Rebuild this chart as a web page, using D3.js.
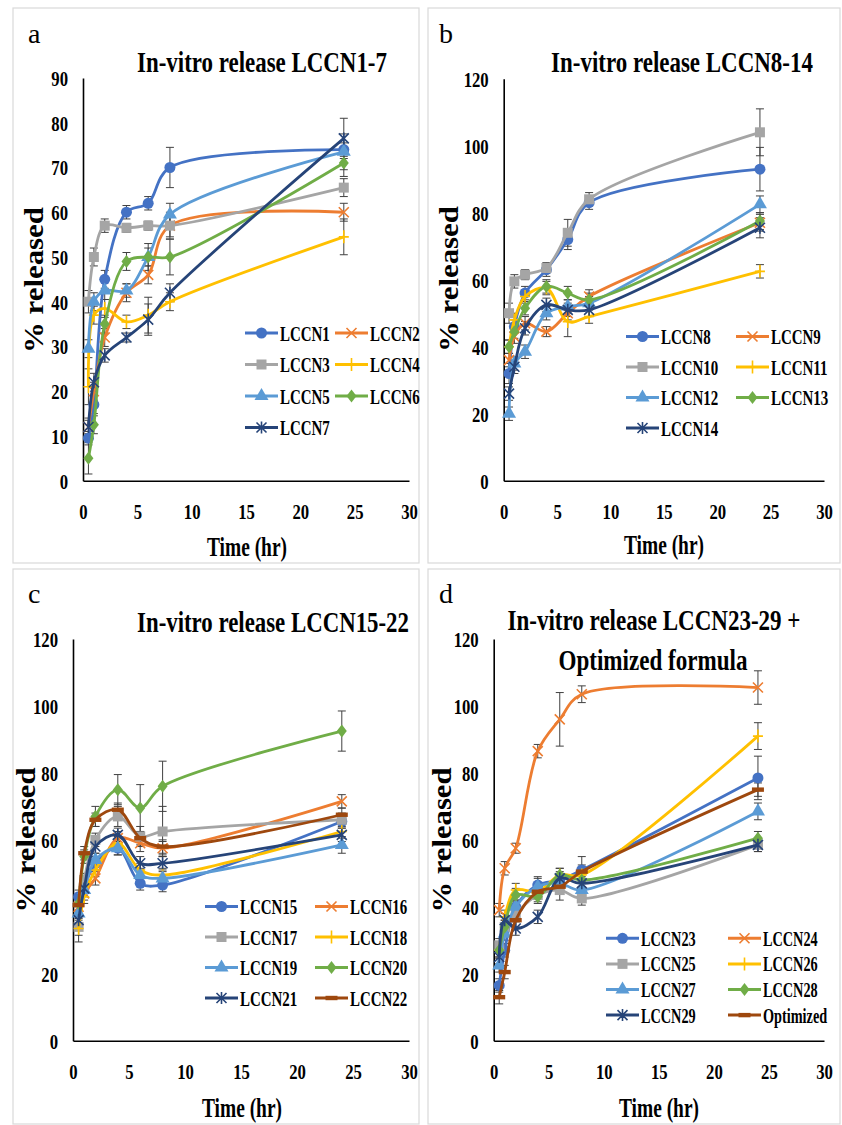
<!DOCTYPE html>
<html>
<head>
<meta charset="utf-8">
<script src="https://cdn.jsdelivr.net/npm/d3@7"></script>
<style>
  body { margin: 0; background: #fff; }
  text { font-family: "Liberation Serif", "Times New Roman", serif; fill: #000; }
</style>
</head>
<body>
<div id="chart"></div>
<script>
// sampling times (hr), shared by all four panels
var times = [0.5, 1, 2, 4, 6, 8, 24];

// panel a
var namesA = ["LCCN1", "LCCN2", "LCCN3", "LCCN4", "LCCN5", "LCCN6", "LCCN7"];
var valuesA = [
  [9.5, 17, 45, 60, 62, 70, 74],
  [12, 20, 32, 42, 46, 57, 60],
  [40, 50, 57, 56.5, 57, 57, 65.5],
  [21, 37, 38.5, 35.5, 37, 40, 54.5],
  [29.5, 40, 42.5, 42.5, 50, 59.5, 73.5],
  [5, 12.5, 35, 49, 50, 50, 71],
  [12, 22, 28, 32, 36, 42, 76.5]
];
var errorsA = [
  [1.5, 2, 2, 1.5, 1.5, 4.5, 1.5],
  [1.5, 2, 2, 2, 2, 3, 2],
  [2.5, 2, 1.5, 1, 1, 2.5, 2],
  [4, 2, 2, 1.5, 4, 2, 4],
  [2, 2, 2, 1.5, 2, 2.5, 4],
  [3.5, 2, 2, 2, 3, 4, 3],
  [2, 2, 1.5, 1, 3.5, 2, 4.5]
];

// panel b
var namesB = ["LCCN8", "LCCN9", "LCCN10", "LCCN11", "LCCN12", "LCCN13", "LCCN14"];
var valuesB = [
  [32, 46, 56, 63, 72, 83, 93],
  [36, 43, 47, 44.5, 50, 55, 77],
  [50, 59.5, 61.5, 63.5, 74, 84, 104],
  [40, 48, 55, 57.5, 47.5, 49, 62.5],
  [20, 35, 38.5, 50, 52, 53, 82.5],
  [40, 44.5, 51.5, 58, 56, 54, 77.5],
  [26, 34, 45.5, 52.5, 51, 51, 75.5]
];
var errorsB = [
  [3, 2, 2, 2, 3, 2, 6.5],
  [2, 2, 2, 1.5, 2, 2, 2.5],
  [3, 2, 1.5, 1.5, 4, 2, 7],
  [2, 2, 2, 2, 4.5, 2, 2],
  [2, 2, 2, 2, 2, 2, 2.5],
  [2, 2, 2, 2, 2, 2, 2.5],
  [2, 2, 2, 2, 2, 2, 3]
];

// panel c
var namesC = ["LCCN15", "LCCN16", "LCCN17", "LCCN18", "LCCN19", "LCCN20", "LCCN21", "LCCN22"];
var valuesC = [
  [43, 46, 53, 57.5, 47, 46.5, 65.5],
  [40, 44, 48.5, 60.5, 59, 57.5, 71.5],
  [34, 48, 60, 67, 61, 62.5, 66],
  [33.5, 43, 51, 59, 51, 49.5, 62.5],
  [38, 45, 54, 57.5, 49.5, 48.5, 58.5],
  [41, 55, 67, 75, 69.5, 76, 92.5],
  [36, 45.5, 58, 61.5, 53, 53, 61.5],
  [40.5, 56, 66, 69, 60.5, 58, 67.5]
];
var errorsC = [
  [2, 2, 2, 2, 2, 2, 2],
  [2, 2, 2, 2, 2.5, 2, 2],
  [2.5, 2, 2, 3, 3, 7.5, 2],
  [4, 2, 2, 2, 2, 2, 2],
  [2, 2, 2, 2, 2, 2, 2.5],
  [2, 2, 3, 4.5, 7, 7.5, 6],
  [2, 2, 2, 2, 2, 2, 2],
  [2, 2, 2, 2, 2, 2, 2]
];

// panel d
var namesD = ["LCCN23", "LCCN24", "LCCN25", "LCCN26", "LCCN27", "LCCN28", "LCCN29", "Optimized"];
var valuesD = [
  [16.5, 27, 40, 46.5, 48, 51, 78.5],
  [39, 51.5, 57.5, 86.5, 96, 103.5, 105.5],
  [28.5, 34, 38, 43.5, 45, 42.5, 58.5],
  [27, 37, 45, 44.5, 49.5, 49.5, 91],
  [22.5, 32, 40, 46, 47, 45, 68.5],
  [27, 34, 43.5, 43, 49.5, 48, 60.5],
  [25, 36, 33.5, 37, 48.5, 47, 58.5],
  [13, 20.5, 36, 44.5, 46, 50.5, 75]
];
var errorsD = [
  [2, 2, 2, 2, 2, 4, 6.5],
  [2, 2, 1.5, 2, 8, 2.5, 5],
  [2, 2, 2, 2, 3, 2, 2],
  [2, 2, 2, 2, 2, 2, 4],
  [2, 2, 2, 3, 2, 2, 2.5],
  [2, 2, 2, 2, 2, 2, 2],
  [2, 2, 2, 2, 2, 2, 2],
  [2, 2, 2, 2, 2, 2, 2]
];

var yTicksA = [0, 10, 20, 30, 40, 50, 60, 70, 80, 90];
var yTicksB = [0, 20, 40, 60, 80, 100, 120];
var xTicks = [0, 5, 10, 15, 20, 25, 30];

// excel-like series styling, same order in every panel
var colors = ["#4472C4", "#ED7D31", "#A5A5A5", "#FFC000", "#5B9BD5", "#70AD47", "#264478", "#9E480E"];
var shapes = ["circle", "x", "square", "plus", "triangle", "diamond", "star", "dash"];

var FONT = '"Liberation Serif", "Times New Roman", serif';

var panels = [
  { letter: "a", names: namesA, values: valuesA, errors: errorsA, yMax: 90, yTicks: yTicksA,
    x0: 83, x1: 409, yTop: 78, yBot: 480.7, frame: [13, 8, 419, 563], letterPos: [28, 43],
    titles: [{ t: "In-vitro release LCCN1-7", cx: 262, y: 72, len: 250 }],
    xlab: { cx: 247, y: 556, len: 80 }, ylab: { x: 43, cy: 280, len: 146 },
    legend: { c1: 245, c2: 335, row0: 333, step: 31.5, font: 22 } },
  { letter: "b", names: namesB, values: valuesB, errors: errorsB, yMax: 120, yTicks: yTicksB,
    x0: 503.7, x1: 824, yTop: 78.7, yBot: 480.7, frame: [428, 8, 840, 563], letterPos: [439, 43],
    titles: [{ t: "In-vitro release LCCN8-14", cx: 682, y: 72, len: 262 }],
    xlab: { cx: 664, y: 554, len: 80 }, ylab: { x: 458, cy: 279, len: 146 },
    legend: { c1: 626, c2: 736, row0: 336.5, step: 30.5, font: 22 } },
  { letter: "c", names: namesC, values: valuesC, errors: errorsC, yMax: 120, yTicks: yTicksB,
    x0: 73, x1: 409, yTop: 639, yBot: 1040.7, frame: [13, 569, 419, 1124], letterPos: [28, 603],
    titles: [{ t: "In-vitro release LCCN15-22", cx: 273, y: 632, len: 272 }],
    xlab: { cx: 242, y: 1117, len: 80 }, ylab: { x: 35, cy: 840, len: 145 },
    legend: { c1: 205, c2: 315, row0: 906.5, step: 30.5, font: 22 } },
  { letter: "d", names: namesD, values: valuesD, errors: errorsD, yMax: 120, yTicks: yTicksB,
    x0: 493.7, x1: 824, yTop: 639, yBot: 1040.7, frame: [428, 569, 840, 1124], letterPos: [439, 603],
    titles: [{ t: "In-vitro release LCCN23-29 +", cx: 654, y: 630, len: 293 },
             { t: "Optimized formula", cx: 653, y: 670, len: 189 }],
    xlab: { cx: 659, y: 1117, len: 80 }, ylab: { x: 451, cy: 840, len: 145 },
    legend: { c1: 606, c2: 728, row0: 938.3, step: 25.6, font: 21 } }
];

var svg = d3.select("#chart").append("svg")
  .attr("width", 842)
  .attr("height", 1125);

svg.append("rect").attr("width", 842).attr("height", 1125).attr("fill", "#fff");

// squeeze a text horizontally so its width becomes len (the reference type is narrow)
function squeeze(t, pre, len) {
  var w = t.node().getComputedTextLength();
  t.attr("transform", pre + " scale(" + (len / w) + ",1)");
}

// draws one marker centred on (x, y)
function drawMarker(g, shape, color, x, y) {
  var m = g.append("g").attr("transform", "translate(" + x + "," + y + ")");
  if (shape === "circle") {
    m.append("path").attr("d", d3.symbol(d3.symbolCircle, 95)()).attr("fill", color);
  } else if (shape === "square") {
    m.append("path").attr("d", d3.symbol(d3.symbolSquare, 100)()).attr("fill", color);
  } else if (shape === "triangle") {
    m.append("path").attr("d", d3.symbol(d3.symbolTriangle, 85)()).attr("fill", color);
  } else if (shape === "diamond") {
    m.append("path").attr("d", "M0,-6.5L5,0L0,6.5L-5,0Z").attr("fill", color);
  } else if (shape === "x") {
    m.append("path").attr("d", "M-5,-5L5,5M-5,5L5,-5").attr("stroke", color).attr("stroke-width", 1.6);
  } else if (shape === "star") {
    m.append("path").attr("d", "M-5,-5L5,5M-5,5L5,-5M0,-6L0,6").attr("stroke", color).attr("stroke-width", 1.6);
  } else if (shape === "plus") {
    m.append("path").attr("d", "M0,-6.5L0,6.5M-5,0L5,0").attr("stroke", color).attr("stroke-width", 1.6);
  } else if (shape === "dash") {
    m.append("rect").attr("x", -6).attr("y", -2.2).attr("width", 12).attr("height", 4.4).attr("fill", color);
  }
}

panels.forEach(function(p) {
  var g = svg.append("g");

  // panel frame
  g.append("rect")
    .attr("x", p.frame[0]).attr("y", p.frame[1])
    .attr("width", p.frame[2] - p.frame[0]).attr("height", p.frame[3] - p.frame[1])
    .attr("fill", "#fff").attr("stroke", "#d9d9d9").attr("stroke-width", 1.2);

  var x = d3.scaleLinear().domain([0, 30]).range([p.x0, p.x1]);
  var y = d3.scaleLinear().domain([0, p.yMax]).range([p.yBot, p.yTop]);

  // axes, no tick marks, condensed bold serif labels
  var ax = g.append("g").attr("transform", "translate(0," + p.yBot + ")")
    .call(d3.axisBottom(x).tickValues(xTicks).tickSize(0).tickFormat(d3.format("d")));
  ax.attr("font-family", FONT);
  ax.select(".domain").attr("stroke", "#000").attr("stroke-width", 1.6);
  ax.selectAll(".tick text")
    .attr("x", 0).attr("y", 38).attr("dy", 0)
    .attr("transform", "scale(0.76,1)")
    .style("font-family", FONT)
    .style("font-size", "22px").style("font-weight", "bold");

  var ay = g.append("g").attr("transform", "translate(" + p.x0 + ",0)")
    .call(d3.axisLeft(y).tickValues(p.yTicks).tickSize(0).tickFormat(d3.format("d")));
  ay.attr("font-family", FONT);
  ay.select(".domain").attr("stroke", "#000").attr("stroke-width", 1.6);
  ay.selectAll(".tick text")
    .attr("x", -15 / 0.76).attr("dy", "0.34em")
    .attr("transform", "scale(0.76,1)")
    .style("font-family", FONT)
    .style("font-size", "22px").style("font-weight", "bold");

  // error bars first, under the lines
  var eb = g.append("g").attr("stroke", "#404040").attr("stroke-width", 1);
  p.values.forEach(function(vals, i) {
    vals.forEach(function(v, j) {
      var e = p.errors[i][j];
      var cx = x(times[j]);
      eb.append("line").attr("x1", cx).attr("x2", cx).attr("y1", y(v - e)).attr("y2", y(v + e));
      eb.append("line").attr("x1", cx - 4).attr("x2", cx + 4).attr("y1", y(v - e)).attr("y2", y(v - e));
      eb.append("line").attr("x1", cx - 4).attr("x2", cx + 4).attr("y1", y(v + e)).attr("y2", y(v + e));
    });
  });

  // excel "smoothed line" look
  var line = d3.line()
    .x(function(d, j) { return x(times[j]); })
    .y(function(d) { return y(d); })
    .curve(d3.curveCatmullRom.alpha(0.5));

  p.values.forEach(function(vals, i) {
    g.append("path").datum(vals)
      .attr("d", line)
      .attr("fill", "none")
      .attr("stroke", colors[i])
      .attr("stroke-width", 2.8);
    vals.forEach(function(v, j) {
      drawMarker(g, shapes[i], colors[i], x(times[j]), y(v));
    });
  });

  // legend, two columns
  p.names.forEach(function(name, i) {
    var lx = i % 2 === 0 ? p.legend.c1 : p.legend.c2;
    var ly = p.legend.row0 + Math.floor(i / 2) * p.legend.step;
    g.append("line").attr("x1", lx).attr("x2", lx + 33).attr("y1", ly).attr("y2", ly)
      .attr("stroke", colors[i]).attr("stroke-width", 3);
    drawMarker(g, shapes[i], colors[i], lx + 16.5, ly);
    g.append("text")
      .attr("transform", "translate(" + (lx + 35) + "," + (ly + 7.5) + ") scale(0.68,1)")
      .style("font-family", FONT)
      .style("font-size", p.legend.font + "px").style("font-weight", "bold")
      .text(name);
  });

  // panel letter
  g.append("text").attr("x", p.letterPos[0]).attr("y", p.letterPos[1])
    .style("font-family", FONT)
    .style("font-size", "28px").text(p.letter);

  // titles
  p.titles.forEach(function(t) {
    var tt = g.append("text").attr("text-anchor", "middle")
      .style("font-family", FONT)
      .style("font-size", "30px").style("font-weight", "bold")
      .text(t.t);
    squeeze(tt, "translate(" + t.cx + "," + t.y + ")", t.len);
  });

  // axis titles
  var xl = g.append("text").attr("text-anchor", "middle")
    .style("font-family", FONT)
    .style("font-size", "27px").style("font-weight", "bold")
    .text("Time (hr)");
  squeeze(xl, "translate(" + p.xlab.cx + "," + p.xlab.y + ")", p.xlab.len);

  var yl = g.append("text").attr("text-anchor", "middle")
    .style("font-family", FONT)
    .style("font-size", "28px").style("font-weight", "bold")
    .text("% released");
  squeeze(yl, "translate(" + p.ylab.x + "," + p.ylab.cy + ") rotate(-90)", p.ylab.len);
});
</script>
</body>
</html>
